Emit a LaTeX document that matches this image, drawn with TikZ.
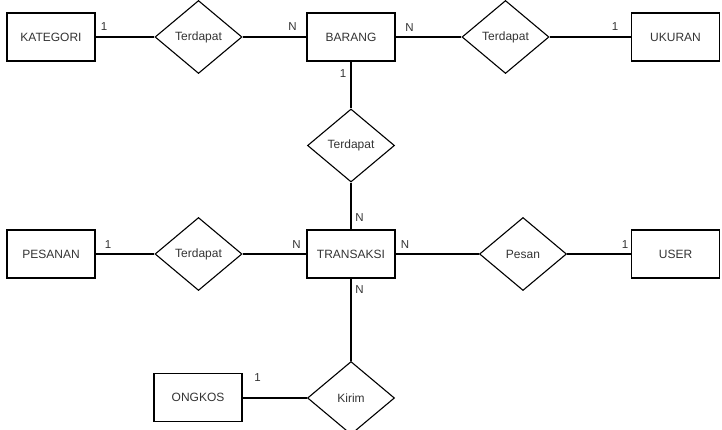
\documentclass[tikz,border=0pt]{standalone}
\usepackage{fontspec}
\setmainfont{Liberation Sans}
\usetikzlibrary{shapes.geometric}
\begin{document}
\begin{tikzpicture}[x=1pt,y=-1pt,
  every node/.style={text=black!80, font=\fontsize{12}{13}\selectfont},
  entity/.style={draw=black, line width=1.1pt, rectangle, minimum width=88pt, minimum height=48pt, inner sep=0pt},
  rel/.style={draw=black, line width=1.1pt, diamond, minimum width=87pt, minimum height=73pt, inner sep=0pt, aspect=1.2},
  conn/.style={draw=black, line width=1.1pt},
  card/.style={inner sep=0pt, font=\fontsize{11.5}{12}\selectfont}]
\useasboundingbox (0,0) rectangle (722,430);
\node[entity] (kat) at (51,37) {KATEGORI};
\node[rel] (r1) at (198.5,37) {Terdapat};
\node[entity] (brg) at (351,37) {BARANG};
\node[rel] (r2) at (505.5,37) {Terdapat};
\node[entity] (uk) at (675.5,37) {UKURAN};
\node[rel] (r3) at (351,145.5) {Terdapat};
\node[entity] (psn) at (51,254) {PESANAN};
\node[rel] (r4) at (198.5,254) {Terdapat};
\node[entity] (trx) at (351,254) {TRANSAKSI};
\node[rel] (r5) at (523,254) {Pesan};
\node[entity] (usr) at (675.5,254) {USER};
\node[rel] (r6) at (351,398) {Kirim};
\node[entity] (ong) at (198,397.5) {ONGKOS};

\draw[conn] (kat) -- (r1);
\draw[conn] (r1) -- (brg);
\draw[conn] (brg) -- (r2);
\draw[conn] (r2) -- (uk);
\draw[conn] (brg) -- (r3);
\draw[conn] (r3) -- (trx);
\draw[conn] (psn) -- (r4);
\draw[conn] (r4) -- (trx);
\draw[conn] (trx) -- (r5);
\draw[conn] (r5) -- (usr);
\draw[conn] (trx) -- (r6);
\draw[conn] (r6.west) -- (ong.east |- r6.west);

\node[card] (c1) at (104,27) {1};
\node[card] (c2) at (292.5,27) {N};
\node[card] (c3) at (409.5,27.5) {N};
\node[card] (c4) at (615,27) {1};
\node[card] (c5) at (343,74) {1};
\node[card] (c6) at (359.5,217.5) {N};
\node[card] (c7) at (108,244.5) {1};
\node[card] (c8) at (296.5,244.5) {N};
\node[card] (c9) at (405,245) {N};
\node[card] (c10) at (625,245) {1};
\node[card] (c11) at (359.5,289.5) {N};
\node[card] (c12) at (257.5,378) {1};
\end{tikzpicture}
\end{document}
